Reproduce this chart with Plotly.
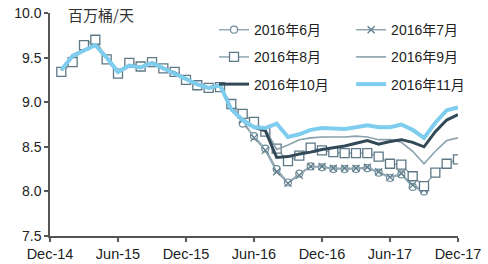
import plotly.graph_objects as go

# month index: 0 = Dec-14, 1 = Jan-15 ... 36 = Dec-17
tick_pos = [0, 6, 12, 18, 24, 30, 36]
tick_labels = ["Dec-14", "Jun-15", "Dec-15", "Jun-16", "Dec-16", "Jun-17", "Dec-17"]

months_full = list(range(1, 37))
months_short = list(range(1, 34))

s_jun16 = [9.34, 9.45, 9.64, 9.70, 9.48, 9.32, 9.44, 9.40, 9.45, 9.38,
           9.34, 9.25, 9.19, 9.16, 9.17, 8.98, 8.76, 8.62, 8.48, 8.25,
           8.10, 8.20, 8.28, 8.27, 8.25, 8.25, 8.25, 8.26, 8.21, 8.15,
           8.19, 8.05, 8.00]
s_jul16 = [9.34, 9.45, 9.64, 9.70, 9.48, 9.32, 9.44, 9.40, 9.45, 9.38,
           9.34, 9.25, 9.19, 9.16, 9.17, 8.97, 8.80, 8.60, 8.46, 8.22,
           8.09, 8.18, 8.28, 8.28, 8.26, 8.26, 8.26, 8.27, 8.22, 8.16,
           8.20, 8.07, 8.02]
s_aug16 = [9.34, 9.45, 9.64, 9.70, 9.48, 9.32, 9.44, 9.40, 9.45, 9.38,
           9.34, 9.25, 9.19, 9.16, 9.17, 8.98, 8.87, 8.78, 8.67, 8.48,
           8.34, 8.40, 8.49, 8.46, 8.44, 8.43, 8.43, 8.43, 8.39, 8.31,
           8.30, 8.17, 8.06, 8.21, 8.31, 8.36]
s_sep16 = [9.36, 9.52, 9.58, 9.64, 9.50, 9.34, 9.41, 9.39, 9.44, 9.38,
           9.33, 9.26, 9.20, 9.16, 9.19, 8.92, 8.80, 8.72, 8.70, 8.47,
           8.52, 8.58, 8.60, 8.61, 8.61, 8.61, 8.62, 8.61, 8.58, 8.58,
           8.55, 8.45, 8.31, 8.45, 8.57, 8.60]
s_oct16 = [9.36, 9.52, 9.58, 9.64, 9.50, 9.34, 9.41, 9.39, 9.44, 9.38,
           9.33, 9.26, 9.20, 9.16, 9.19, 8.92, 8.80, 8.72, 8.68, 8.38,
           8.39, 8.42, 8.44, 8.47, 8.49, 8.51, 8.54, 8.57, 8.53, 8.56,
           8.58, 8.55, 8.50, 8.67, 8.80, 8.86]
s_nov16 = [9.36, 9.52, 9.58, 9.64, 9.50, 9.34, 9.41, 9.39, 9.44, 9.38,
           9.33, 9.26, 9.20, 9.16, 9.19, 8.92, 8.80, 8.72, 8.71, 8.76,
           8.61, 8.64, 8.69, 8.71, 8.71, 8.70, 8.72, 8.74, 8.72, 8.72,
           8.75, 8.69, 8.60, 8.77, 8.91, 8.94]

names = ["2016年6月", "2016年7月", "2016年8月", "2016年9月", "2016年10月", "2016年11月"]

FONT = "Liberation Sans, Arial, Noto Sans CJK SC, sans-serif"
fig = go.Figure()

fig.add_trace(go.Scatter(
    x=months_short, y=s_jun16, name=names[0], mode="lines+markers",
    line=dict(color="#93aab6", width=1.5),
    marker=dict(symbol="circle", size=7, color="white",
                line=dict(color="#6f8c9a", width=1.2)),
    legend="legend", legendgroup="g1"))
fig.add_trace(go.Scatter(
    x=months_short, y=s_jul16, name=names[1], mode="lines+markers",
    line=dict(color="#8fa6b2", width=1.5),
    marker=dict(symbol="x-thin", size=7, color="#5f7d8b",
                line=dict(color="#5f7d8b", width=1.3)),
    legend="legend2", legendgroup="g2"))
fig.add_trace(go.Scatter(
    x=months_full, y=s_aug16, name=names[2], mode="lines+markers",
    line=dict(color="#8fa6b2", width=1.5),
    marker=dict(symbol="square", size=9, color="white",
                line=dict(color="#5e7886", width=1.3)),
    legend="legend", legendgroup="g3"))
fig.add_trace(go.Scatter(
    x=months_full, y=s_sep16, name=names[3], mode="lines",
    line=dict(color="#8aa0ab", width=1.6),
    legend="legend2", legendgroup="g4"))
fig.add_trace(go.Scatter(
    x=months_full, y=s_oct16, name=names[4], mode="lines",
    line=dict(color="#324a58", width=3),
    legend="legend", legendgroup="g5"))
fig.add_trace(go.Scatter(
    x=months_full, y=s_nov16, name=names[5], mode="lines",
    line=dict(color="#7fcdee", width=4),
    legend="legend2", legendgroup="g6"))

legend_common = dict(
    font=dict(family=FONT, size=14, color="#222222"),
    bgcolor="rgba(255,255,255,0)", borderwidth=0,
    yanchor="top", xanchor="left", tracegroupgap=6,
    itemwidth=30,
)

fig.update_layout(
    width=488, height=264,
    margin=dict(l=50, r=30, t=13, b=28, autoexpand=False),
    paper_bgcolor="white", plot_bgcolor="white",
    font=dict(family=FONT, size=14, color="#222222"),
    showlegend=True,
    legend=dict(x=0.402, y=0.995, **legend_common),
    legend2=dict(x=0.738, y=0.995, **legend_common),
    xaxis=dict(
        range=[0, 36], tickmode="array", tickvals=tick_pos, ticktext=tick_labels,
        showgrid=False, zeroline=False, showline=True, linecolor="#555555",
        linewidth=1.5, ticks="outside", ticklen=4, tickcolor="#555555",
        tickwidth=1.5, tickfont=dict(size=14.5, color="#222222"),
    ),
    yaxis=dict(
        range=[7.5, 10.0], dtick=0.5, tick0=7.5, tickformat=".1f",
        showgrid=False, zeroline=False, showline=True, linecolor="#555555",
        linewidth=1.5, ticks="outside", ticklen=4, tickcolor="#555555",
        tickwidth=1.5, tickfont=dict(size=14, color="#222222"),
    ),
    annotations=[dict(
        text="百万桶/天", xref="paper", yref="paper", x=0.04, y=0.995,
        xanchor="left", yanchor="middle", showarrow=False,
        font=dict(family="Noto Sans CJK SC", size=15, color="#333333"),
    )],
)

fig.write_html("out.html")
